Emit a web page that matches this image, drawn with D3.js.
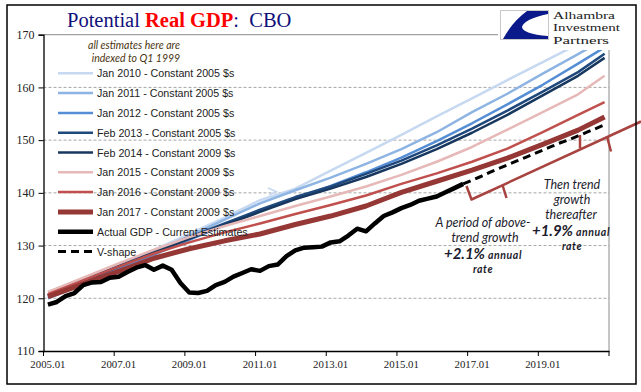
<!DOCTYPE html>
<html><head><meta charset="utf-8">
<script src="https://cdn.jsdelivr.net/npm/d3@7/dist/d3.min.js"></script>
<style>body{margin:0;background:#fff}svg{display:block}</style>
</head><body>
<svg id="chart" width="641" height="392"></svg>
<script>
// ---------------- DATA ----------------
const years = [2005,2006,2007,2008,2009,2010,2011,2012,2013,2014,2015,2016,2017,2018,2019,2020];
const quarterCodes = ["01","02","03","04"];
const categories = years.flatMap(y => quarterCodes.map(q => y + "." + q));
const tickLabels = ["2005.01","2007.01","2009.01","2011.01","2013.01","2015.01","2017.01","2019.01"];
const yTicks = [110,120,130,140,150,160,170];

// CBO potential GDP vintages, read at Q1 of each year plus 2020.04
const estimateDates = ["2005.01","2006.01","2007.01","2008.01","2009.01","2010.01","2011.01","2012.01","2013.01","2014.01","2015.01","2016.01","2017.01","2018.01","2019.01","2020.01","2020.04"];
const jan2010 = [120.8,123.5,126.3,129.2,132.2,135.3,138.6,140.8,144.2,147.6,151.0,154.5,157.9,161.4,164.8,168.2,170.8];
const jan2011 = [120.2,123.0,125.9,128.8,131.8,134.9,138.0,140.5,142.9,145.5,148.3,151.5,155.3,158.8,162.6,166.3,169.2];
const jan2012 = [120.0,122.7,125.5,128.3,131.1,133.9,136.7,139.0,141.3,143.9,146.7,149.8,153.2,156.8,160.5,164.5,167.6];
const feb2013 = [120.6,123.4,126.2,128.9,131.6,134.2,136.8,139.2,141.2,143.6,146.1,149.0,152.2,155.6,159.2,162.9,166.4];
const feb2014 = [120.5,123.2,126.0,128.7,131.3,133.9,136.4,138.8,140.8,143.0,145.5,148.3,151.4,154.8,158.5,162.2,165.6];
const jan2015 = [121.2,123.9,126.6,129.2,131.6,133.7,135.6,137.5,139.3,141.2,143.4,145.9,148.7,152.0,155.3,158.7,162.2];
const jan2016 = [120.8,123.4,126.0,128.5,130.6,132.5,134.2,136.0,137.7,139.5,141.7,143.7,145.9,148.4,151.5,154.8,157.2];
const jan2017 = [120.3,122.7,125.1,127.6,129.4,130.9,132.2,134.0,135.6,137.5,140.1,142.2,144.3,146.6,149.2,151.9,154.4];

// Actual GDP, quarterly 2005.01 - 2016.04
const actualGDP = [118.8,119.3,120.4,121.0,122.5,123.0,123.1,123.9,
  124.1,125.0,125.8,126.3,125.4,126.2,125.4,122.9,
  121.1,121.0,121.4,122.5,123.1,124.1,124.8,125.5,
  125.2,126.1,126.4,128.0,129.1,129.6,129.7,129.8,
  130.6,130.8,131.9,133.2,132.7,134.2,135.6,136.3,
  137.1,137.7,138.5,138.9,139.3,140.1,140.9,141.7];
// V-shape projection, quarterly 2016.04 - 2020.04
const vShape = [141.7,142.4,143.1,143.9,144.6,145.3,146.0,146.7,147.4,148.1,148.8,149.5,150.1,150.8,151.5,152.2,152.9];

const legendNames = ["Jan 2010 - Constant 2005 $s","Jan 2011 - Constant 2005 $s","Jan 2012 - Constant 2005 $s",
  "Feb 2013 - Constant 2005 $s","Feb 2014 - Constant 2009 $s","Jan 2015 - Constant 2009 $s",
  "Jan 2016 - Constant 2009 $s","Jan 2017 - Constant 2009 $s","Actual GDP - Current Estimates","V-shape"];

// ---------------- STYLES ----------------
const estimateSeries = [jan2010,jan2011,jan2012,feb2013,feb2014,jan2015,jan2016,jan2017];
const colors = ["#c6d9f1","#8db4e2","#558ed5","#1f497d","#17375e","#e6b9b8","#c0504d","#953735","#000000","#000000"];
const widths = [2.5,2.5,2.5,2.5,2.5,2.5,2.5,5,4.5,3];

const svg = d3.select("#chart");
const L = 43.5, R = 609, T = 34.7, B = 351;
const x = d3.scaleBand().domain(categories).range([L, R]);
const xc = c => x(c) + x.bandwidth()/2;
const y = d3.scaleLinear().domain([110,170]).range([B, T]);

svg.append("rect").attr("width",641).attr("height",392).attr("fill","#fff");

// gridlines
svg.append("g").selectAll("line").data(yTicks.filter(v => v>110 && v<170)).join("line")
  .attr("x1",L).attr("x2",R).attr("y1",d=>y(d)).attr("y2",d=>y(d))
  .attr("stroke","#a6a6a6").attr("stroke-width",1).attr("stroke-dasharray","3,2");
svg.append("line").attr("x1",L).attr("x2",R).attr("y1",y(170)).attr("y2",y(170)).attr("stroke","#8c8c8c");
svg.append("line").attr("x1",R).attr("x2",R).attr("y1",y(170)).attr("y2",B).attr("stroke","#8c8c8c");

// clip
svg.append("clipPath").attr("id","plotclip").append("rect")
  .attr("x",L).attr("y",T).attr("width",R-L).attr("height",B-T);
const plot = svg.append("g").attr("clip-path","url(#plotclip)");

const line = d3.line().x(d=>d[0]).y(d=>d[1]);
estimateSeries.forEach((s,k) => {
  plot.append("path").datum(s.map((v,i)=>[xc(estimateDates[i]), y(v)]))
    .attr("d",line).attr("fill","none").attr("stroke",colors[k]).attr("stroke-width",widths[k])
    .attr("stroke-linejoin","round");
});
plot.append("path").datum(vShape.map((v,i)=>[xc(categories[47+i]), y(v)]))
  .attr("d",line).attr("fill","none").attr("stroke","#000").attr("stroke-width",3).attr("stroke-dasharray","8,5");
plot.append("path").datum(actualGDP.map((v,i)=>[xc(categories[i]), y(v)]))
  .attr("d",line).attr("fill","none").attr("stroke","#000").attr("stroke-width",4.5).attr("stroke-linejoin","round");

// small arrow head on Jan 2010 line
svg.append("path").attr("d","M268,188 L276,191.5 L269,195").attr("fill","none")
  .attr("stroke",colors[0]).attr("stroke-width",1.8);

// axes
const yAxis = svg.append("g").attr("transform",`translate(${L},0)`)
  .call(d3.axisLeft(y).tickValues(yTicks).tickSize(5).tickPadding(4));
yAxis.select(".domain").attr("stroke","#000").attr("stroke-width",1.3);
yAxis.selectAll(".tick line").attr("stroke","#000");
yAxis.selectAll("text").attr("font-family","'Liberation Serif',serif").attr("font-size","12px").attr("fill","#222");

const xAxis = svg.append("g").attr("transform",`translate(0,${B})`)
  .call(d3.axisBottom(x).tickValues(tickLabels).tickSize(0).tickPadding(9.5));
xAxis.select(".domain").attr("stroke","#000").attr("stroke-width",1.3);
xAxis.selectAll("text").attr("font-family","'Liberation Serif',serif").attr("font-size","10.8px").attr("fill","#222");
const tickPos = tickLabels.map(t => x(t)).concat([R]);
svg.append("g").selectAll("line").data(tickPos).join("line")
  .attr("x1",d=>d).attr("x2",d=>d).attr("y1",B).attr("y2",B+5).attr("stroke","#000");

// brackets
const brC = "#a8433f";
svg.append("path").attr("d","M466.5,186 L471.5,199.5 L641,121.5").attr("fill","none").attr("stroke",brC).attr("stroke-width",2.5).attr("stroke-linejoin","round");
svg.append("path").attr("d","M502.5,185 L506.5,198").attr("stroke",brC).attr("stroke-width",2.5);
svg.append("path").attr("d","M580,148.5 L580,135").attr("stroke",brC).attr("stroke-width",2.5);
svg.append("path").attr("d","M607,136.5 L611,151.5").attr("stroke",brC).attr("stroke-width",2.5);

// annotation texts
const annoFont = "Lato, 'Open Sans', sans-serif";
const tc = "#1c1c2c";
function txt(xp, yp, parts){
  const t = svg.append("text").attr("x",xp).attr("y",yp).attr("text-anchor","middle")
    .attr("font-family",annoFont).attr("fill",tc).style("white-space","pre");
  parts.forEach(p => t.append("tspan").text(p[0]).attr("font-size",p[1]+"px")
    .attr("font-style","italic").attr("font-weight",p[2]||"normal").attr("letter-spacing",p[3]||0));
}
txt(483,227,[["A period of above-",12.5]]);
txt(485,242,[["trend growth",12.5]]);
txt(483,259,[["+2.1%",15,"bold"],[" annual",10.5,"bold",0.6]]);
txt(483,273,[["rate",10.5,"bold",0.6]]);
txt(572,189,[["Then trend",12.5]]);
txt(572,204,[["growth",12.5]]);
txt(571,219,[["thereafter",12.5]]);
txt(571,236,[["+1.9%",15,"bold"],[" annual",10.5,"bold",0.6]]);
txt(572,250,[["rate",10.5,"bold",0.6]]);

// legend note
svg.append("text").attr("x",134).attr("y",49).attr("text-anchor","middle")
  .attr("font-family",annoFont).attr("font-style","italic").attr("font-size","10.5px").attr("fill","#4a3510")
  .text("all estimates here are");
svg.append("text").attr("x",136).attr("y",62).attr("text-anchor","middle")
  .attr("font-family",annoFont).attr("font-style","italic").attr("font-size","10.5px").attr("fill","#4a3510")
  .text("indexed to Q1 1999");

// legend
const lg = svg.append("g");
legendNames.forEach((n,k) => {
  const ry = 73.3 + k*19.8;
  lg.append("line").attr("x1",58).attr("x2",93).attr("y1",ry).attr("y2",ry)
    .attr("stroke",colors[k]).attr("stroke-width",widths[k])
    .attr("stroke-dasharray", k===9 ? "8,5" : null);
  lg.append("text").attr("x",97).attr("y",ry+4).text(n)
    .attr("font-family","'Liberation Sans',Arial,sans-serif").attr("font-size","10.7px").attr("fill","#222");
});

// title
const title = svg.append("text").attr("x",67).attr("y",27).attr("font-family","'Liberation Serif',serif")
  .attr("font-size","20.5px").style("white-space","pre");
title.append("tspan").text("Potential ").attr("fill","#10107a");
title.append("tspan").text("Real GDP").attr("fill","#ff0000").attr("font-weight","bold");
title.append("tspan").text(":  CBO").attr("fill","#10107a");

// logo
svg.append("rect").attr("x",498).attr("y",6).attr("width",136).attr("height",44).attr("fill","#fff");
svg.append("rect").attr("x",500.5).attr("y",10.5).attr("width",48).attr("height",29).attr("fill","#fff").attr("stroke","#c8c8c8");
svg.append("path").attr("d","M527,11 L548,11 L548,14 Q524,19 522,27 Q523,34 548,36 L548,39 L503,39 Q512,22 527,11 Z").attr("fill","#0b1a8a");
const lt = svg.append("g").attr("font-family","'Liberation Serif',serif").attr("font-size","11.2px").attr("fill","#222");
lt.append("text").attr("x",553).attr("y",18.5).attr("textLength",62).attr("lengthAdjust","spacingAndGlyphs").text("Alhambra");
lt.append("text").attr("x",553).attr("y",31).attr("textLength",67).attr("lengthAdjust","spacingAndGlyphs").text("Investment");
lt.append("text").attr("x",553).attr("y",43.5).attr("textLength",56).attr("lengthAdjust","spacingAndGlyphs").text("Partners");

// outer border
svg.append("rect").attr("x",7).attr("y",5).attr("width",629).attr("height",379).attr("fill","none").attr("stroke","#000").attr("stroke-width",1.5);
</script>
</body></html>
